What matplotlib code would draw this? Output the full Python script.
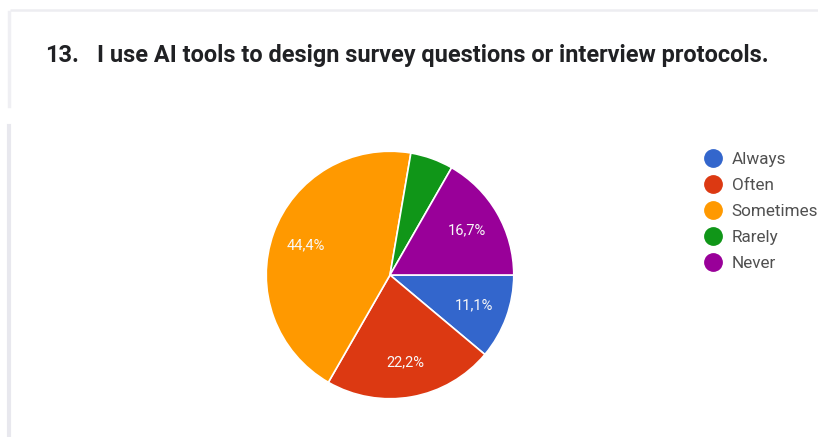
import matplotlib
matplotlib.use("Agg")
import matplotlib.pyplot as plt
from matplotlib.lines import Line2D

# Survey responses (percent of respondents)
categories = ["Always", "Often", "Sometimes", "Rarely", "Never"]
shares = [11.1, 22.2, 44.4, 5.6, 16.7]
colors = ["#3366CC", "#DC3912", "#FF9900", "#109618", "#990099"]
question_number = "13."
question_text = "I use AI tools to design survey questions or interview protocols."

W, H = 818, 437
fig = plt.figure(figsize=(W / 100, H / 100), dpi=100)
fig.patch.set_facecolor("white")

# faint card outlines
bg = fig.add_axes([0, 0, 1, 1])
bg.set_xlim(0, W)
bg.set_ylim(H, 0)
bg.axis("off")
bg.plot([10, W], [10, 10], color="#ededf1", lw=1.8, solid_capstyle="butt")
bg.plot([9, 9], [12, 106], color="#efeff3", lw=2.5)
bg.plot([9, 9], [126, H], color="#e8e8ee", lw=3)

# question title
bg.text(45, 62, question_number, fontsize=16.9, fontweight="bold",
        family="Roboto", color="#202124", va="baseline", ha="left")
bg.text(97, 62, question_text, fontsize=16.9, fontweight="bold",
        family="Roboto", color="#202124", va="baseline", ha="left")

# pie chart
cx, cy, r = 390, 275, 125
ax = fig.add_axes([(cx - r) / W, (H - cy - r) / H, 2 * r / W, 2 * r / H])


def fmt(p):
    return ("%.1f%%" % p).replace(".", ",") if p >= 10 else ""


wedges, _, autotexts = ax.pie(
    shares, colors=colors, startangle=0, counterclock=False,
    autopct=fmt, pctdistance=0.72,
    wedgeprops=dict(edgecolor="white", linewidth=1.2),
    textprops=dict(color="#f8f8f8", fontsize=10.5, family="Roboto"),
)
ax.set_xlim(-1.01, 1.01)
ax.set_ylim(-1.01, 1.01)
ax.set_aspect("equal")

# legend
handles = [Line2D([0], [0], marker="o", linestyle="none", markersize=12.5,
                  markerfacecolor=c, markeredgecolor=c) for c in colors]
leg = fig.legend(handles, categories, loc="upper left",
                 bbox_to_anchor=(706 / W, 1 - 152 / H), frameon=False,
                 handlelength=0.8, handletextpad=0.7, labelspacing=0.64,
                 borderaxespad=0, borderpad=0,
                 prop=dict(family="Roboto", size=12.3))
for t in leg.get_texts():
    t.set_color("#505050")

fig.savefig("out.png", dpi=100, facecolor="white")
